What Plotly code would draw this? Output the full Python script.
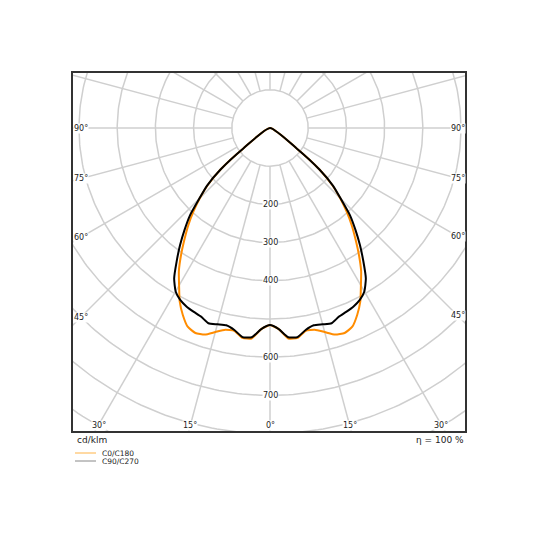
import numpy as np
import plotly.graph_objects as go

# ---- data (cd/klm); angle from nadir in degrees ----
angles = [0, 2.5, 5, 7.5, 10, 12.5, 15, 17.5, 20, 22.5, 25, 27.5, 30,
          32.5, 35, 37.5, 40, 42.5, 45, 47.5, 50, 52.5, 55]
c0_c180 = [516, 527, 553, 554, 539, 541, 553, 567, 571, 563, 540, 512, 476,
           444, 406, 368, 333, 297, 260, 221, 169, 88, 0]
c90_c270 = [516, 527, 550, 552, 537, 529, 532, 536, 526, 521, 516, 508, 494,
            467, 426, 387, 348, 310, 262, 224, 169, 88, 0]

ring_radii = [100, 200, 300, 400, 500, 600, 700, 800, 900, 1000]
ring_labels = [200, 300, 400, 600, 700]
spoke_angles = list(range(0, 360, 15))
side_labels = [90, 75, 60, 45]
bottom_labels = [30, 15, 0]
efficiency = 100
unit = "cd/klm"
series_names = ["C0/C180", "C90/C270"]
series_colors = ["#ff8c00", "#000000"]

# ---- geometry (page has an 8 px body margin) ----
W = H = 540
OFF = 8
L, R, T, B = 72, 466, 72, 432      # frame in page px
CX, CY = 270, 128                  # polar centre in page px
S = 0.382                          # px per cd/klm
xr = [(L - CX) / S, (R - CX) / S]
yr = [-(B - CY) / S, (CY - T) / S]


def to_xy(theta_deg, r):
    t = np.radians(np.asarray(theta_deg, dtype=float))
    r = np.asarray(r, dtype=float)
    return r * np.sin(t), -r * np.cos(t)


fig = go.Figure()

# grid rings
gx, gy = [], []
phi = np.linspace(0, 360, 361)
for rr in ring_radii:
    x, y = to_xy(phi, np.full_like(phi, rr))
    gx += list(x) + [None]
    gy += list(y) + [None]
# spokes
for a in spoke_angles:
    x, y = to_xy([a, a], [ring_radii[0], ring_radii[-1]])
    gx += list(x) + [None]
    gy += list(y) + [None]
fig.add_trace(go.Scatter(x=gx, y=gy, mode="lines", hoverinfo="skip",
                         line=dict(color="#cfcfcf", width=1.5), showlegend=False))

# curves (mirrored: C0 / C180 and C90 / C270)
for vals, col, name in [(c0_c180, series_colors[0], series_names[0]),
                        (c90_c270, series_colors[1], series_names[1])]:
    th = [-a for a in angles[::-1]] + angles[1:]
    rv = vals[::-1] + vals[1:]
    x, y = to_xy(th, rv)
    fig.add_trace(go.Scatter(x=x, y=y, mode="lines", name=name,
                             line=dict(color=col, width=2, shape="spline", smoothing=0.5),
                             showlegend=False))

ann = []
tf = dict(family="DejaVu Sans", size=8, color="#222222")
for rr in ring_labels:
    ann.append(dict(x=0, y=-rr, xref="x", yref="y", text=str(rr), showarrow=False,
                    font=tf, bgcolor="white", borderpad=0, xanchor="center", yanchor="middle"))

inset_x = 8.5 / S
for a in side_labels:
    for sgn, edge in [(-1, xr[0]), (1, xr[1])]:
        xd = abs(edge) - inset_x
        yd = -xd / np.tan(np.radians(a)) if a != 90 else 0.0
        ann.append(dict(x=sgn * xd, y=yd, xref="x", yref="y", text=f"{a}°", showarrow=False,
                        font=tf, bgcolor="white", borderpad=0,
                        xanchor="center", yanchor="middle"))
inset_y = 7 / S
for a in bottom_labels:
    yd = yr[0] + inset_y
    for sgn in ([-1, 1] if a != 0 else [1]):
        xd = sgn * abs(yd) * np.tan(np.radians(a))
        ann.append(dict(x=xd, y=yd, xref="x", yref="y", text=f"{a}°", showarrow=False,
                        font=tf, bgcolor="white", borderpad=0,
                        xanchor="center", yanchor="middle"))


def px(xp):
    return (xp - L) / (R - L)


def py(yp):
    return (B - yp) / (B - T)


ann.append(dict(x=px(75), y=py(440), xref="paper", yref="paper", text=unit, showarrow=False,
                font=dict(family="DejaVu Sans", size=9, color="#222222"),
                xanchor="left", yanchor="middle"))
ann.append(dict(x=px(466), y=py(440), xref="paper", yref="paper",
                text=f"η = {efficiency} %", showarrow=False,
                font=dict(family="DejaVu Sans", size=9, color="#222222"),
                xanchor="right", yanchor="middle"))

shapes = []
legend_colors = ["#ffb347", "#888888"]
for i, name in enumerate(series_names):
    yy = 453 + 8 * i
    shapes.append(dict(type="line", xref="paper", yref="paper", x0=px(75), x1=px(96),
                       y0=py(yy), y1=py(yy), line=dict(color=legend_colors[i], width=1)))
    ann.append(dict(x=px(100), y=py(yy), xref="paper", yref="paper", text=name,
                    showarrow=False, font=dict(family="DejaVu Sans", size=7.5, color="#222222"),
                    xanchor="left", yanchor="middle"))

shapes.append(dict(type="rect", xref="paper", yref="paper", x0=0, x1=1, y0=0, y1=1,
                   line=dict(color="#333333", width=2), layer="above"))

fig.update_layout(
    width=W, height=H,
    margin=dict(l=L - OFF, r=W - R + OFF, t=T - OFF, b=H - B + OFF, pad=0),
    paper_bgcolor="white", plot_bgcolor="white",
    xaxis=dict(range=xr, showgrid=False, zeroline=False, showticklabels=False,
               ticks="", fixedrange=True),
    yaxis=dict(range=yr, showgrid=False, zeroline=False, showticklabels=False,
               ticks="", fixedrange=True),
    annotations=ann, shapes=shapes, showlegend=False,
)

fig.write_html("out.html")
